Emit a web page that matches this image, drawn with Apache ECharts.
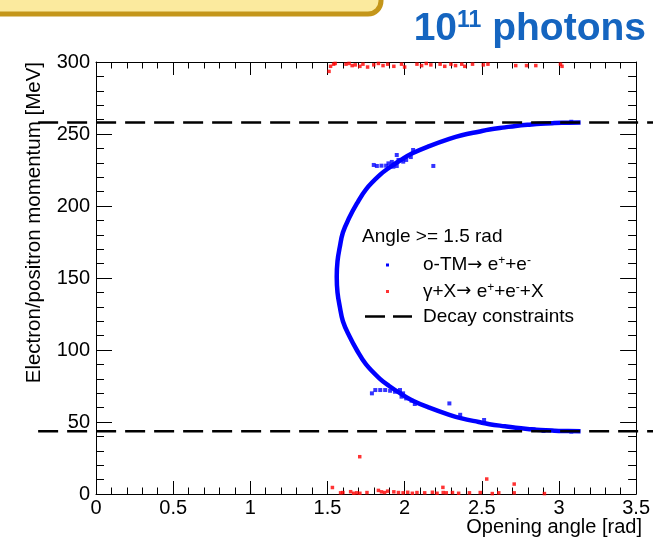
<!DOCTYPE html>
<html>
<head>
<meta charset="utf-8">
<script src="https://cdn.jsdelivr.net/npm/echarts@6/dist/echarts.min.js"></script>
<style>
html, body { margin: 0; padding: 0; background: #fff; }
#chart { width: 653px; height: 538px; }
</style>
</head>
<body>
<div id="chart"></div>
<script>
// opening angle [rad], momentum [MeV]
var blueCurve = [
	[3.14, 43.6], [3.02, 43.8], [2.97, 44], [2.88, 44.5], [2.82, 45], [2.72, 46], [2.65, 47],
	[2.55, 48.5], [2.48, 50], [2.37, 52.5], [2.29, 55], [2.16, 60], [2.05, 65], [1.97, 70],
	[1.90, 75], [1.84, 80], [1.75, 90], [1.69, 100], [1.64, 110], [1.60, 120], [1.58, 130],
	[1.565, 140], [1.56, 150.8], [1.565, 161.6], [1.58, 171.6], [1.60, 181.6], [1.64, 191.6],
	[1.69, 201.6], [1.75, 211.6], [1.84, 221.6], [1.90, 226.6], [1.97, 231.6], [2.05, 236.6],
	[2.16, 241.6], [2.29, 246.6], [2.37, 249.1], [2.48, 251.6], [2.55, 253.1], [2.65, 254.6],
	[2.72, 255.6], [2.82, 256.6], [2.88, 257.1], [2.97, 257.6], [3.02, 257.8], [3.14, 258]
];
var blueExtra = [
	[1.80, 228.5], [1.82, 227.8], [1.85, 228], [1.88, 228], [1.895, 229.6], [1.917, 230.6],
	[1.927, 227.3], [1.949, 235.4], [1.949, 227.8], [1.96, 232], [1.991, 230.8], [2.01, 232],
	[2.04, 234], [2.055, 238.9], [2.186, 227.8], [3.08, 258.5],
	[1.788, 69.9], [1.81, 72.2], [1.842, 72.2], [1.874, 72.2], [1.906, 71.7], [1.938, 71],
	[1.97, 72.2], [1.99, 69.9], [1.98, 67.6], [2.01, 66.4], [2.045, 64.8], [2.066, 62.5],
	[2.29, 62.9], [2.36, 55], [2.515, 51.4], [2.835, 44.9], [2.9, 43.8], [3.08, 43.3]
];
var redTop = [
	[1.51, 293.5], [1.52, 297], [1.54, 298.5], [1.55, 299], [1.62, 298.5], [1.64, 299],
	[1.66, 297.5], [1.68, 298], [1.71, 297], [1.73, 298.5], [1.76, 296.5], [1.80, 298],
	[1.83, 299], [1.86, 297.5], [1.89, 298.5], [1.93, 297], [1.98, 298.5], [2.00, 296.5],
	[2.08, 298.5], [2.11, 297.5], [2.14, 299], [2.17, 298], [2.23, 298.5], [2.26, 297],
	[2.30, 298.5], [2.33, 297.5], [2.37, 298.5], [2.39, 297], [2.44, 298.5], [2.51, 298],
	[2.54, 298.5], [2.72, 297.5], [2.79, 297.5], [2.85, 297.5], [3.01, 298.5], [3.02, 297]
];
var redBottom = [
	[1.532, 4.5], [1.585, 0.8], [1.60, 1], [1.65, 1.6], [1.67, 0.5], [1.69, 0.8], [1.71, 0.5],
	[1.709, 25.9], [1.756, 1], [1.83, 2.5], [1.85, 1.5], [1.87, 1], [1.89, 2], [1.93, 1.5],
	[1.96, 1], [1.99, 0.8], [2.02, 1.2], [2.05, 0.5], [2.08, 1], [2.13, 0.8], [2.18, 1.2],
	[2.21, 0.5], [2.248, 4.6], [2.25, 1], [2.27, 0.8], [2.31, 1], [2.35, 0.5], [2.42, 0.8],
	[2.49, 1], [2.532, 10.4], [2.568, 0.3], [2.61, 0.8], [2.71, 6.9], [2.71, 0.8], [2.906, 0.3]
];
var constraintLevels = [258, 43.6];
var constraintSpan = [-0.37, 3.7];
var xRange = [0, 3.5], xStep = 0.5;
var yRange = [0, 300], yStep = 50;

var font = "'Liberation Sans', Arial, Helvetica, sans-serif";
var myChart = echarts.init(document.getElementById('chart'));

function frameAxis(dir, pos, range, step, showLabel, tickLen) {
	return {
		type: 'value', gridIndex: 0, position: pos,
		min: range[0], max: range[1], interval: step,
		axisLine: { show: true, onZero: false, lineStyle: { color: '#000', width: 1 } },
		axisTick: { show: true, inside: true, length: tickLen, lineStyle: { color: '#000', width: 1 } },
		minorTick: { show: true, splitNumber: 5, length: tickLen / 2, lineStyle: { color: '#000', width: 1 } },
		splitLine: { show: false },
		axisLabel: {
			show: showLabel, color: '#000', fontSize: 20, fontFamily: font,
			margin: dir == 'x' ? 4 : 6, showMinLabel: true, showMaxLabel: true
		}
	};
}

var constraintSeries = constraintLevels.map(function (lv) {
	return {
		name: 'Decay constraints', type: 'line', xAxisIndex: 2, yAxisIndex: 2,
		symbol: 'none', clip: false, z: 5, silent: true, color: '#000',
		lineStyle: { color: '#000', width: 2.5, type: [20, 9] },
		data: [[constraintSpan[0], lv], [constraintSpan[1], lv]]
	};
});

var option = {
	animation: false,
	grid: [
		{ left: 96, top: 62, right: 11, bottom: 44 },
		{ left: 96 - 0.4 * 156, top: 62, width: 4.1 * 156, height: 432 }
	],
	xAxis: [
		frameAxis('x', 'bottom', xRange, xStep, true, 13),
		frameAxis('x', 'top', xRange, xStep, false, 13),
		{ type: 'value', gridIndex: 1, min: -0.4, max: 3.7, show: false }
	],
	yAxis: [
		frameAxis('y', 'left', yRange, yStep, true, 16),
		frameAxis('y', 'right', yRange, yStep, false, 16),
		{ type: 'value', gridIndex: 1, min: yRange[0], max: yRange[1], show: false }
	],
	legend: [
		{
			orient: 'vertical', left: 386, top: 255, padding: 0, itemGap: 7,
			itemWidth: 3, itemHeight: 3, selectedMode: false,
			data: [
				{ name: 'o-TM', icon: 'rect' },
				{ name: 'gammaX', icon: 'rect' }
			],
			formatter: function (name) {
				if (name == 'o-TM')
					return '{sp|}{t|o-TM}{ar|\u2192}{t| e}{s|+}{t|+e}{s|-}';
				return '{sp|}{t|\u03b3+X}{ar|\u2192}{t| e}{s|+}{t|+e}{s|-}{t|+X}';
			},
			textStyle: {
				rich: {
					sp: { width: 29, lineHeight: 20 },
					t: { fontSize: 19, fontFamily: font, color: '#000', lineHeight: 20 },
					ar: { fontSize: 18, fontFamily: "'DejaVu Sans', sans-serif", color: '#000', lineHeight: 20 },
					s: { fontSize: 12, fontFamily: font, color: '#000', lineHeight: 8, verticalAlign: 'top' }
				}
			}
		},
		{
			orient: 'vertical', left: 365, top: 307, padding: 0,
			itemWidth: 47, itemHeight: 2.5, selectedMode: false,
			data: [{
				name: 'Decay constraints',
				icon: 'path://M0,0H20V2.5H0Z M28,0H47V2.5H28Z',
				itemStyle: { color: '#000' }
			}],
			formatter: '{sp|}{t|{name}}',
			textStyle: {
				rich: {
					sp: { width: 6, lineHeight: 20 },
					t: { fontSize: 19, fontFamily: font, color: '#000', lineHeight: 20 }
				}
			}
		}
	],
	graphic: [
		{
			type: 'rect', silent: true, z: 10,
			shape: { x: -20, y: -40, width: 401, height: 54, r: 13 },
			style: { fill: '#fbea9e', stroke: '#c4961a', lineWidth: 5 }
		},
		{
			type: 'text', x: 646, y: 29, silent: true,
			style: {
				text: '{a|10}{b|11}{a| photons}', align: 'right', verticalAlign: 'middle',
				rich: {
					a: { fontSize: 39, fontWeight: 'bold', fontFamily: font, fill: '#1565c0', lineHeight: 39 },
					b: { fontSize: 23, fontWeight: 'bold', fontFamily: font, fill: '#1565c0', lineHeight: 24, verticalAlign: 'top' }
				}
			}
		},
		{
			type: 'text', x: 34, y: 62, rotation: Math.PI / 2, silent: true,
			style: {
				text: 'Electron/positron momentum [MeV]', align: 'right', verticalAlign: 'middle',
				fontSize: 20.5, fontFamily: font, fill: '#000'
			}
		},
		{
			type: 'text', x: 642, y: 527, silent: true,
			style: {
				text: 'Opening angle [rad]', align: 'right', verticalAlign: 'middle',
				fontSize: 20, fontFamily: font, fill: '#000'
			}
		},
		{
			type: 'text', x: 362, y: 237, silent: true,
			style: {
				text: 'Angle >= 1.5 rad', align: 'left', verticalAlign: 'middle',
				fontSize: 19, fontFamily: font, fill: '#000'
			}
		}
	],
	series: [
		{
			name: 'o-TM', type: 'line', color: '#0000ff',
			smooth: 0.4, showSymbol: false, symbol: 'none', clip: true, silent: true,
			lineStyle: { color: '#0000ff', width: 4.5 },
			data: blueCurve
		},
		{
			name: 'o-TM', type: 'scatter', color: '#0000ff', symbol: 'rect', symbolSize: 4,
			clip: true, silent: true, data: blueExtra
		},
		{
			name: 'gammaX', type: 'scatter', color: '#ff0000', symbol: 'rect', symbolSize: 3.5,
			clip: true, silent: true, data: redTop.concat(redBottom)
		}
	].concat(constraintSeries)
};

myChart.setOption(option);
</script>
</body>
</html>
